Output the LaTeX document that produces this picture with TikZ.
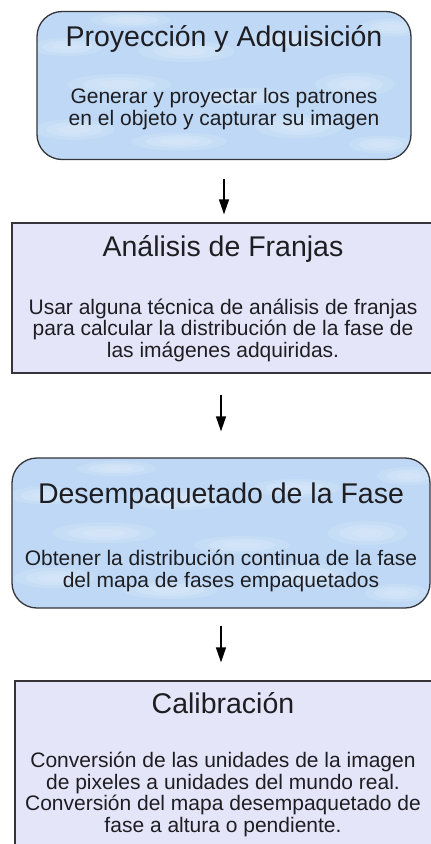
\documentclass[tikz,border=0pt]{standalone}
\usepackage{fontspec}
\setmainfont{Liberation Sans}
\usetikzlibrary{arrows.meta,calc}

\definecolor{cielo}{RGB}{190,216,245}
\definecolor{lavanda}{RGB}{229,229,249}
\definecolor{borde}{RGB}{52,52,58}
\definecolor{letra}{RGB}{30,30,34}

\tikzset{
  etapa/.style={draw=borde, line width=1.3pt, inner sep=0pt},
  nube/.style={etapa, fill=cielo, rounded corners=25pt,
    path picture={
      \foreach \cx/\cy/\rx/\ry in {0.1/0.2/0.1/0.07, 0.38/0.12/0.12/0.06, 0.7/0.22/0.11/0.08,
        0.92/0.1/0.08/0.06, 0.22/0.5/0.13/0.07, 0.55/0.42/0.12/0.06, 0.85/0.5/0.1/0.08,
        0.08/0.75/0.09/0.06, 0.4/0.72/0.12/0.07, 0.68/0.8/0.11/0.06, 0.95/0.88/0.08/0.06,
        0.25/0.93/0.1/0.05}
        \foreach \s in {1,0.7,0.4}
          \fill[white, opacity=0.13]
            ($(path picture bounding box.south west)!\cx!(path picture bounding box.south east)
              + (0,{-\cy*150})$) ellipse [x radius={\s*\rx*400}, y radius={\s*\ry*150}];
    }},
  plano/.style={etapa, fill=lavanda},
  titulo/.style={anchor=base, text=letra, font=\fontsize{28.5}{30}\selectfont},
  cuerpo/.style={anchor=base, align=center, text=letra, font=\fontsize{21}{21.5}\selectfont},
  flecha/.style={-{Triangle[length=15pt,width=10pt]}, line width=1.3pt}
}

\begin{document}
\begin{tikzpicture}[x=1pt,y=-1pt]
  \clip (0,0) rectangle (431,844);
  \fill[white] (0,0) rectangle (431,844);

  % etapas
  \node[nube, minimum width=374pt, minimum height=148pt] (proy) at (224,85.5) {};
  \node[plano, minimum width=422pt, minimum height=150pt] (anal) at (223,298) {};
  \node[nube, minimum width=418pt, minimum height=150pt] (desemp) at (221,533) {};
  \node[plano, minimum width=424pt, minimum height=240pt] (calib) at (227,801) {};

  % textos (base = ultima linea)
  \node[titulo] (proyT) at (224,46) {Proyección y Adquisición};
  \node[cuerpo] (proyC) at (224,125) {Generar y proyectar los patrones\\en el objeto y capturar su imagen};

  \node[titulo] (analT) at (223,256) {Análisis de Franjas};
  \node[cuerpo] (analC) at (223,357) {Usar alguna técnica de análisis de franjas\\para calcular la distribución de la fase de\\las imágenes adquiridas.};

  \node[titulo] (desempT) at (221,503) {Desempaquetado de la Fase};
  \node[cuerpo] (desempC) at (221,587) {Obtener la distribución continua de la fase\\del mapa de fases empaquetados};

  \node[titulo] (calibT) at (223,713) {Calibración};
  \node[cuerpo] (calibC) at (223,832) {Conversión de las unidades de la imagen\\de pixeles a unidades del mundo real.\\Conversión del mapa desempaquetado de\\fase a altura o pendiente.};

  % flechas
  \draw[flecha, shorten <=18.5pt, shorten >=8pt] (proy.south) -- (proy.south |- anal.north);
  \draw[flecha, shorten <=21pt, shorten >=26pt] (desemp.north |- anal.south) -- (desemp.north);
  \draw[flecha, shorten <=17pt, shorten >=18pt] (desemp.south) -- (desemp.south |- calib.north);
\end{tikzpicture}
\end{document}
